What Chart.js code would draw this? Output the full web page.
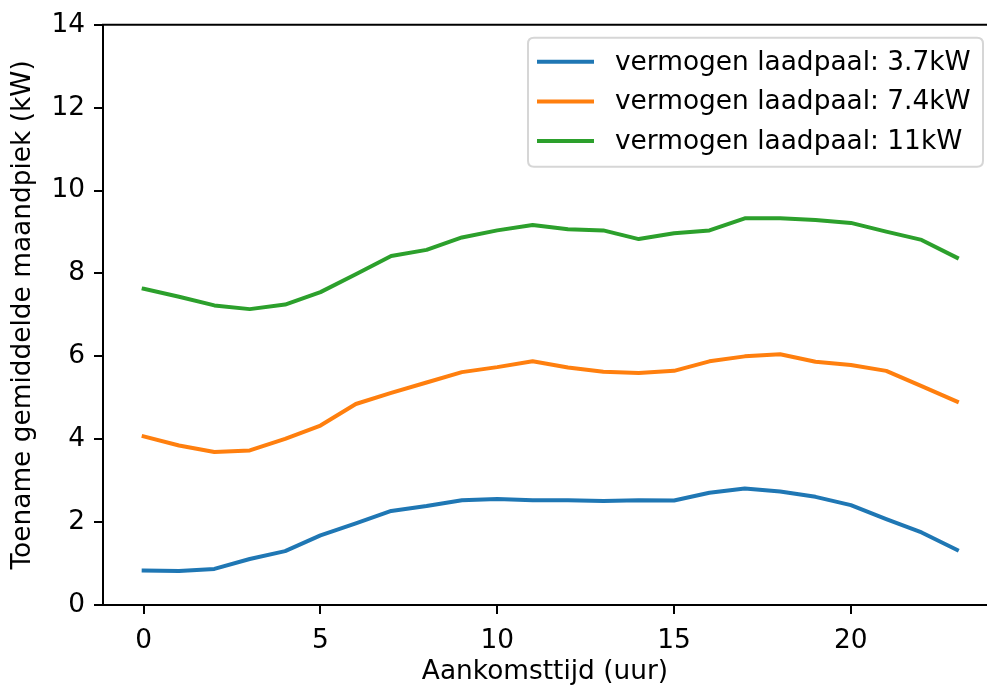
<!DOCTYPE html>
<html>
<head>
<meta charset="utf-8">
<title>Toename gemiddelde maandpiek per aankomsttijd</title>
<script src="https://cdn.jsdelivr.net/npm/chart.js@4/dist/chart.umd.min.js"></script>
<style>
  html, body { margin: 0; padding: 0; background: #ffffff; overflow: hidden; }
  #wrap { width: 987px; height: 688px; }
</style>
</head>
<body>
<div id="wrap"><canvas id="chart" width="987" height="688"></canvas></div>
<script>
// Arrival hour of the EV at the charging point
const hours = [0, 1, 2, 3, 4, 5, 6, 7, 8, 9, 10, 11, 12, 13, 14, 15, 16, 17, 18, 19, 20, 21, 22, 23];

// Increase of the average monthly peak (kW) per charger power
const peak37kW = [0.83, 0.82, 0.87, 1.11, 1.30, 1.68, 1.97, 2.27, 2.39, 2.53, 2.56, 2.53,
                  2.53, 2.51, 2.53, 2.52, 2.71, 2.81, 2.74, 2.61, 2.41, 2.07, 1.75, 1.33];
const peak74kW = [4.07, 3.85, 3.69, 3.73, 4.01, 4.33, 4.85, 5.12, 5.37, 5.62, 5.74, 5.88,
                  5.73, 5.63, 5.60, 5.65, 5.88, 6.00, 6.05, 5.87, 5.79, 5.65, 5.28, 4.91];
const peak11kW = [7.63, 7.44, 7.23, 7.14, 7.25, 7.55, 7.98, 8.42, 8.57, 8.87, 9.04, 9.17,
                  9.07, 9.04, 8.83, 8.97, 9.04, 9.33, 9.33, 9.29, 9.22, 9.01, 8.81, 8.38];

const seriesLabels = ['vermogen laadpaal: 3.7kW', 'vermogen laadpaal: 7.4kW', 'vermogen laadpaal: 11kW'];
const seriesColors = ['#1f77b4', '#ff7f0e', '#2ca02c'];

const xTicks = [0, 5, 10, 15, 20];
const yTicks = [0, 2, 4, 6, 8, 10, 12, 14];

const FONT_SIZE = 26.4;
Chart.defaults.font.family = "'DejaVu Sans', sans-serif";
Chart.defaults.font.size = FONT_SIZE;
Chart.defaults.color = '#000000';

const toPoints = values => hours.map((h, i) => ({ x: h, y: values[i] }));

// Top spine of the axes box
const frameTop = {
  id: 'frameTop',
  afterDatasetsDraw(chart) {
    const { ctx, chartArea } = chart;
    ctx.save();
    ctx.strokeStyle = '#000000';
    ctx.lineWidth = 2;
    ctx.beginPath();
    ctx.moveTo(chartArea.left - 1, chartArea.top);
    ctx.lineTo(chartArea.right, chartArea.top);
    ctx.stroke();
    ctx.restore();
  }
};

// Framed legend in the upper right corner of the plot area
const framedLegend = {
  id: 'framedLegend',
  afterDraw(chart) {
    const { ctx, chartArea } = chart;
    const right = chartArea.right - 4;
    const top = chartArea.top + 13;
    const width = 455, height = 129, radius = 6;
    const left = right - width;
    ctx.save();
    ctx.beginPath();
    ctx.moveTo(left + radius, top);
    ctx.lineTo(right - radius, top);
    ctx.quadraticCurveTo(right, top, right, top + radius);
    ctx.lineTo(right, top + height - radius);
    ctx.quadraticCurveTo(right, top + height, right - radius, top + height);
    ctx.lineTo(left + radius, top + height);
    ctx.quadraticCurveTo(left, top + height, left, top + height - radius);
    ctx.lineTo(left, top + radius);
    ctx.quadraticCurveTo(left, top, left + radius, top);
    ctx.closePath();
    ctx.fillStyle = 'rgba(255,255,255,0.8)';
    ctx.fill();
    ctx.strokeStyle = '#d6d6d6';
    ctx.lineWidth = 2;
    ctx.stroke();

    ctx.font = FONT_SIZE + "px 'DejaVu Sans', sans-serif";
    ctx.textBaseline = 'middle';
    ctx.textAlign = 'left';
    chart.data.datasets.forEach((ds, i) => {
      const cy = top + 24 + i * 39.6;
      ctx.strokeStyle = ds.borderColor;
      ctx.lineWidth = 4;
      ctx.lineCap = 'square';
      ctx.beginPath();
      ctx.moveTo(left + 11, cy);
      ctx.lineTo(left + 64, cy);
      ctx.stroke();
      ctx.fillStyle = '#000000';
      ctx.fillText(ds.label, left + 87, cy + 1);
    });
    ctx.restore();
  }
};

const datasets = [peak37kW, peak74kW, peak11kW].map((vals, i) => ({
  label: seriesLabels[i],
  data: toPoints(vals),
  borderColor: seriesColors[i],
  backgroundColor: seriesColors[i],
  borderWidth: 4,
  pointRadius: 0,
  tension: 0,
  borderJoinStyle: 'round',
  borderCapStyle: 'square',
  fill: false
}));

new Chart(document.getElementById('chart'), {
  type: 'line',
  data: { datasets },
  options: {
    responsive: false,
    animation: false,
    events: [],
    layout: { padding: { top: 24, right: 0, bottom: 0, left: 0 } },
    plugins: {
      legend: { display: false },
      tooltip: { enabled: false }
    },
    scales: {
      x: {
        type: 'linear',
        min: -1.15,
        max: 23.85,
        afterBuildTicks: s => { s.ticks = xTicks.map(v => ({ value: v })); },
        afterFit: s => { s.height = 83; },
        grid: { drawOnChartArea: false, color: '#000000', lineWidth: 2, tickLength: 9 },
        border: { color: '#000000', width: 2 },
        ticks: { padding: 11, maxRotation: 0, autoSkip: false, color: '#000000' },
        title: {
          display: true,
          text: 'Aankomsttijd (uur)',
          color: '#000000',
          padding: { top: 0, bottom: 0 }
        }
      },
      y: {
        type: 'linear',
        min: 0,
        max: 14,
        afterBuildTicks: s => { s.ticks = yTicks.map(v => ({ value: v })); },
        afterFit: s => { s.width = 103; },
        grid: { drawOnChartArea: false, color: '#000000', lineWidth: 2, tickLength: 9 },
        border: { color: '#000000', width: 2 },
        ticks: { padding: 9, autoSkip: false, color: '#000000' },
        title: {
          display: true,
          text: 'Toename gemiddelde maandpiek (kW)',
          color: '#000000',
          padding: { top: 7, bottom: 0 }
        }
      }
    }
  },
  plugins: [frameTop, framedLegend]
});
</script>
</body>
</html>
